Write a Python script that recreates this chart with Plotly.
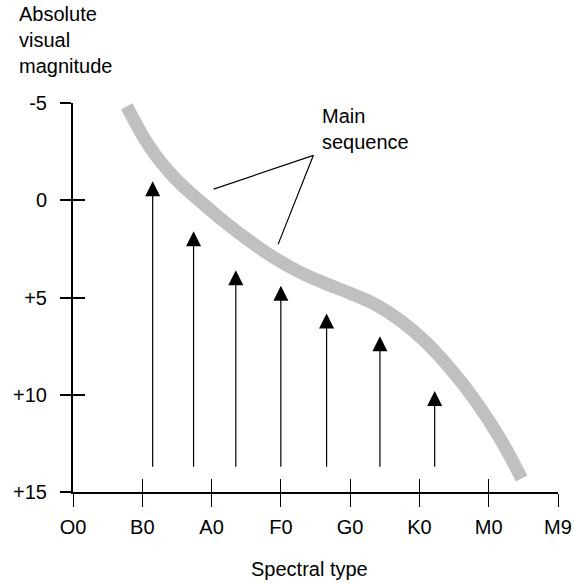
import plotly.graph_objects as go

# ---- data ----
spectral_ticks = ["O0", "B0", "A0", "F0", "G0", "K0", "M0", "M9"]
spectral_pos = [0, 1, 2, 3, 4, 5, 6, 7]
mag_ticks = [-5, 0, 5, 10, 15]
mag_labels = ["-5", "0", "+5", "+10", "+15"]

# main sequence band (spectral position, absolute magnitude)
ms_x = [0.775, 1.111, 1.472, 1.833, 2.194, 2.555, 2.915, 3.276, 3.637,
        3.998, 4.359, 4.719, 5.080, 5.441, 5.802, 6.162, 6.476]
ms_y = [-4.83, -2.72, -1.13, 0.05, 1.13, 2.11, 2.98, 3.70, 4.27,
        4.78, 5.35, 6.17, 7.25, 8.64, 10.28, 12.24, 14.31]

# arrows: spectral position, start magnitude, tip magnitude
arrow_x = [1.15, 1.74, 2.35, 3.0, 3.66, 4.43, 5.22]
arrow_tip = [-0.98, 1.60, 3.6, 4.40, 5.82, 6.99, 9.81]
arrow_base = [13.78, 13.78, 13.78, 13.78, 13.78, 13.78, 13.78]

# "Main sequence" label leader lines: end near band, apex, end near band
leader_x = [2.03, 3.47, 2.96]
leader_y = [-0.57, -2.31, 2.27]

FONT = "Liberation Sans, Arial, Helvetica, sans-serif"

FW, FH = 574, 584
L, R, T, B = 73, 16, 103, 584 - 492
PW, PH = FW - L - R, FH - T - B


def px_paper(X, Y):
    """image pixel -> plot paper coords"""
    return (X - L) / PW, 1 - (Y - T) / PH


fig = go.Figure()

fig.add_trace(go.Scatter(
    x=ms_x, y=ms_y, mode="lines",
    line=dict(color="#c0c0c0", width=13, shape="spline", smoothing=1.0),
    hoverinfo="skip", showlegend=False))

fig.add_trace(go.Scatter(
    x=[leader_x[0], leader_x[1], leader_x[2]], y=[leader_y[0], leader_y[1], leader_y[2]],
    mode="lines", line=dict(color="black", width=1.2), hoverinfo="skip", showlegend=False))

# dummy trace for the inner-tick overlay axes
fig.add_trace(go.Scatter(x=[None], y=[None], xaxis="x2", yaxis="y2",
                         showlegend=False, hoverinfo="skip"))

for xa, tip, base in zip(arrow_x, arrow_tip, arrow_base):
    fig.add_annotation(
        x=xa, y=tip, ax=xa, ay=base, xref="x", yref="y", axref="x", ayref="y",
        text="", showarrow=True, arrowhead=2, arrowsize=2.5, arrowwidth=1.2,
        arrowcolor="black", standoff=0)

fig.add_annotation(
    x=3.56, y=-5.0, xref="x", yref="y", xanchor="left", yanchor="top", align="left",
    text="Main<br>sequence", showarrow=False, font=dict(family=FONT, size=20, color="black"))

ax_, ay_ = px_paper(18, 2)
fig.add_annotation(x=ax_, y=ay_, xref="paper", yref="paper", xanchor="left", yanchor="top",
                   align="left", text="Absolute<br>visual<br>magnitude", showarrow=False,
                   borderpad=0, font=dict(family=FONT, size=20, color="black"))
sx, sy = px_paper(309, 569)
fig.add_annotation(x=sx, y=sy, xref="paper", yref="paper", xanchor="center", yanchor="middle",
                   text="Spectral type", showarrow=False,
                   font=dict(family=FONT, size=20, color="black"))

common = dict(showgrid=False, zeroline=False, fixedrange=True, automargin=False)

fig.update_layout(
    width=FW, height=FH, autosize=False,
    margin=dict(l=L, r=R, t=T, b=B, pad=0),
    paper_bgcolor="white", plot_bgcolor="white",
    font=dict(family=FONT, size=20, color="black"),
    xaxis=dict(range=[0, 7], tickvals=spectral_pos, ticktext=spectral_ticks,
               showline=True, linecolor="black", linewidth=2,
               ticks="outside", ticklen=13, tickwidth=1.3, tickcolor="black",
               ticklabelstandoff=3, **common),
    yaxis=dict(range=[15, -5], tickvals=mag_ticks, ticktext=mag_labels,
               showline=True, linecolor="black", linewidth=2,
               ticks="outside", ticklen=11, tickwidth=2, tickcolor="black",
               ticklabelstandoff=9, **common),
    xaxis2=dict(range=[0, 7], tickvals=spectral_pos, overlaying="x", anchor="y", side="bottom",
                showline=False, showticklabels=False,
                ticks="inside", ticklen=13, tickwidth=1.3, tickcolor="black", **common),
    yaxis2=dict(range=[15, -5], tickvals=mag_ticks, overlaying="y", anchor="x", side="left",
                showline=False, showticklabels=False,
                ticks="inside", ticklen=12, tickwidth=2, tickcolor="black", **common),
    showlegend=False,
)

fig.write_html("out.html", config={"displayModeBar": False},
               post_script="document.body.style.margin='0px';document.body.style.overflow='hidden';")
